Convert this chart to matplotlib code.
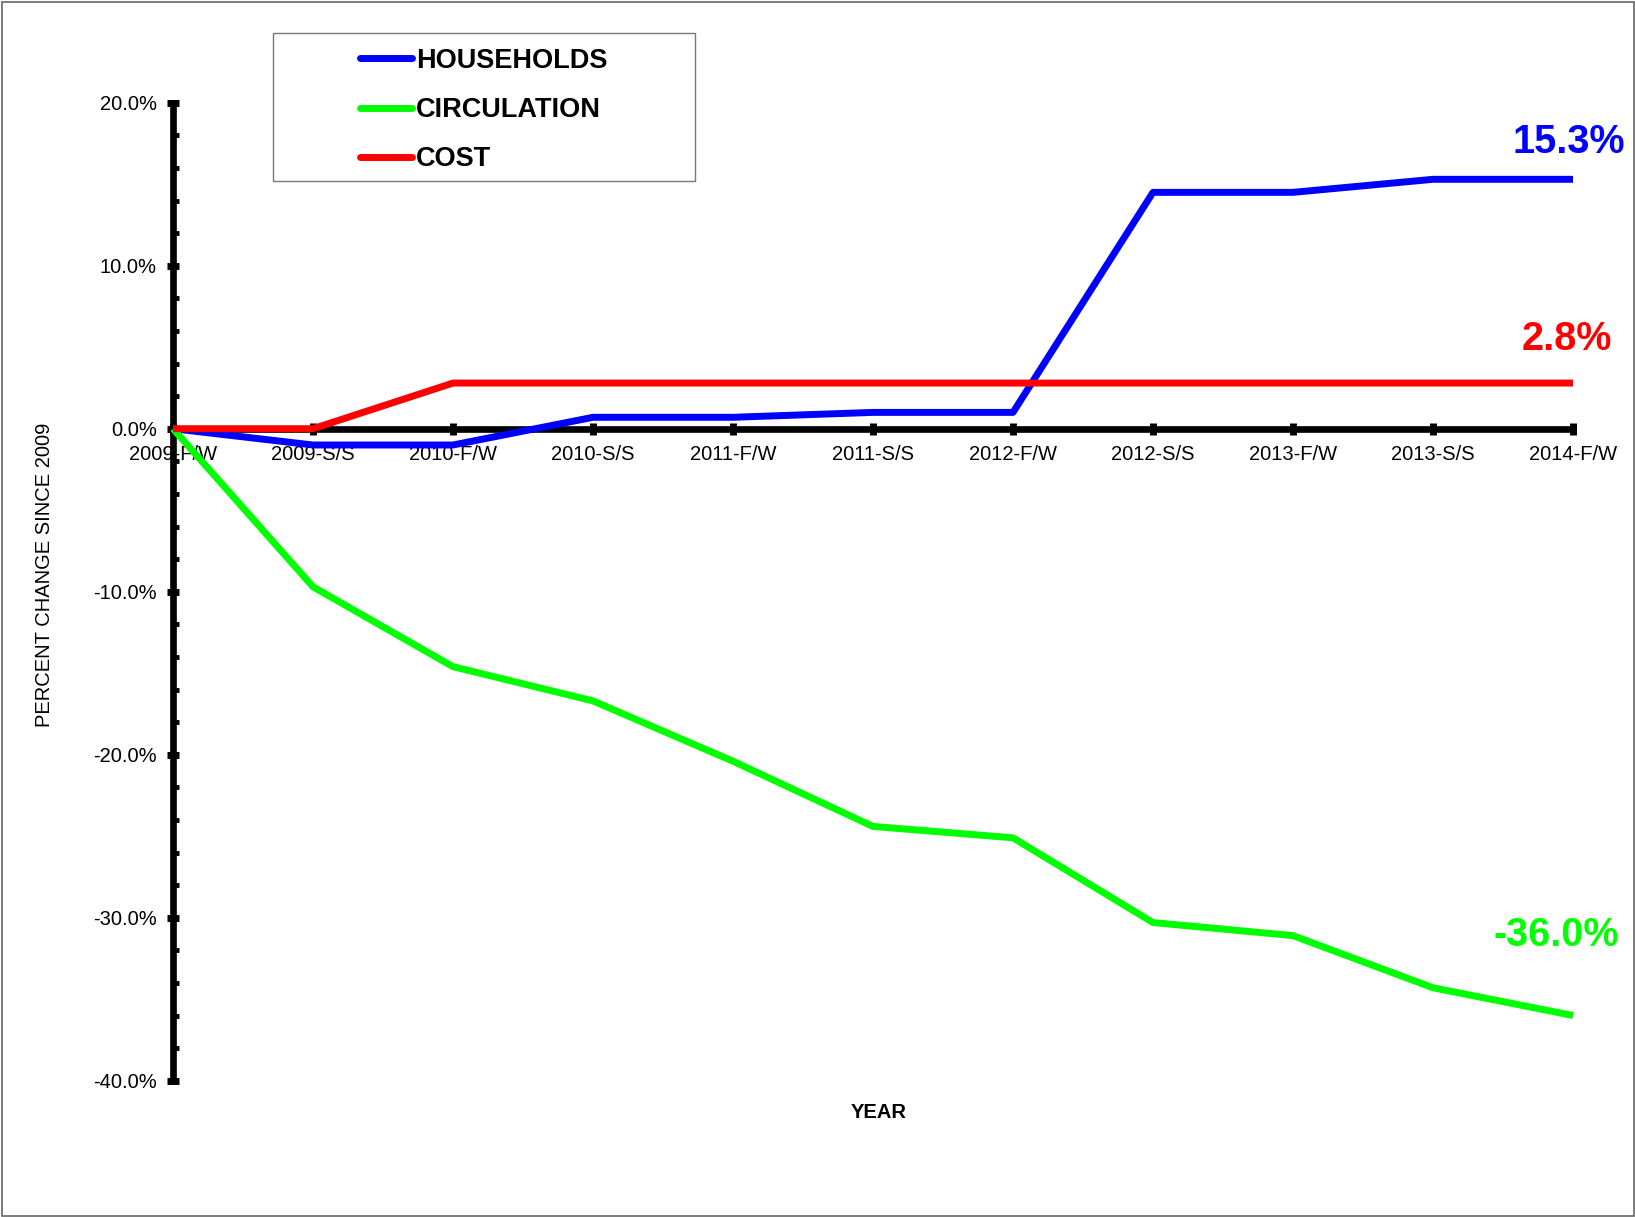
import matplotlib
matplotlib.use("Agg")
import matplotlib.pyplot as plt
from matplotlib.lines import Line2D
from matplotlib.patches import Rectangle
from matplotlib.ticker import FixedLocator, MultipleLocator, FuncFormatter

plt.rcParams['font.family'] = ['Liberation Sans', 'DejaVu Sans']

seasons = ['2009-F/W', '2009-S/S', '2010-F/W', '2010-S/S', '2011-F/W', '2011-S/S',
           '2012-F/W', '2012-S/S', '2013-F/W', '2013-S/S', '2014-F/W']
households = [0.0, -1.0, -1.0, 0.7, 0.7, 1.0, 1.0, 14.5, 14.5, 15.3, 15.3]
circulation = [0.0, -9.7, -14.6, -16.7, -20.4, -24.4, -25.1, -30.3, -31.1, -34.3, -36.0]
cost = [0.0, 0.0, 2.8, 2.8, 2.8, 2.8, 2.8, 2.8, 2.8, 2.8, 2.8]

names = ['HOUSEHOLDS', 'CIRCULATION', 'COST']
colors = ['#0000ff', '#00ff00', '#ff0000']
end_labels = ['15.3%', '2.8%', '-36.0%']
y_ticks = [20, 10, 0, -10, -20, -30, -40]

W, H = 1635, 1217
fig = plt.figure(figsize=(W / 100, H / 100), dpi=100)
ax = fig.add_axes([173 / W, 1 - 1080.7 / H, (1573 - 173) / W, (1080.7 - 102.7) / H])

x = list(range(len(seasons)))
for vals, c in zip([households, circulation, cost], colors):
    ax.plot(x, vals, color=c, lw=5.0, solid_capstyle='butt', zorder=3, clip_on=False)

ax.set_xlim(0, len(seasons) - 1)
ax.set_ylim(-40, 20)

# axes: thick black lines, x axis sits at zero
for s in ['top', 'right']:
    ax.spines[s].set_visible(False)
ax.spines['bottom'].set_position(('data', 0))
ax.spines['bottom'].set_linewidth(4.8)
ax.spines['left'].set_linewidth(4.8)

ax.xaxis.set_major_locator(FixedLocator(x))
ax.set_xticklabels(seasons)
ax.yaxis.set_major_locator(FixedLocator(y_ticks))
ax.yaxis.set_minor_locator(MultipleLocator(2))
ax.yaxis.set_major_formatter(FuncFormatter(lambda v, p: '{:.1f}%'.format(v)))

ax.tick_params(axis='both', which='major', direction='inout', length=8.6, width=5,
               labelsize=14.5, pad=7.4, color='black')
ax.tick_params(axis='y', which='minor', direction='in', length=4.2, width=3.5)

# end-of-line value labels
offsets = [(-3, 18.7), (-4.3, 24.1), (-11.8, 50.4)]
for vals, c, lab, off in zip([households, cost, circulation], [colors[0], colors[2], colors[1]],
                             end_labels, offsets):
    ax.annotate(lab, (x[-1], vals[-1]), xytext=off, textcoords='offset points',
                ha='center', va='baseline', fontsize=28.5, fontweight='bold', color=c,
                annotation_clip=False)

fig.text(44 / W, 1 - 574.5 / H, 'PERCENT CHANGE SINCE 2009', rotation=90,
         ha='center', va='center', fontsize=14.5)
fig.text(879 / W, 1 - 1112 / H, 'YEAR', ha='center', va='center',
         fontsize=14.5, fontweight='bold')

# legend inside its own box
bx0, by0, bx1, by1 = 273 / W, 1 - 181 / H, 695 / W, 1 - 33 / H
fig.patches.append(Rectangle((bx0, by0), bx1 - bx0, by1 - by0, transform=fig.transFigure,
                             fill=False, edgecolor='#777777', lw=1.0))
handles = [Line2D([], [], color=c, lw=5.0, solid_capstyle='round') for c in colors]
fig.legend(handles, names, loc='center',
           bbox_to_anchor=(bx0, by0 - 3 / H, bx1 - bx0, by1 - by0),
           bbox_transform=fig.transFigure, frameon=False,
           prop={'weight': 'bold', 'size': 19.5}, handlelength=1.92, handletextpad=0.15,
           labelspacing=0.86, borderpad=0)

# thin grey border round the whole picture
fig.patches.append(Rectangle((1.5 / W, 1.5 / H), 1 - 3 / W, 1 - 3 / H,
                             transform=fig.transFigure, fill=False,
                             edgecolor='#666666', lw=1.2))

fig.savefig('out.png', dpi=100)
